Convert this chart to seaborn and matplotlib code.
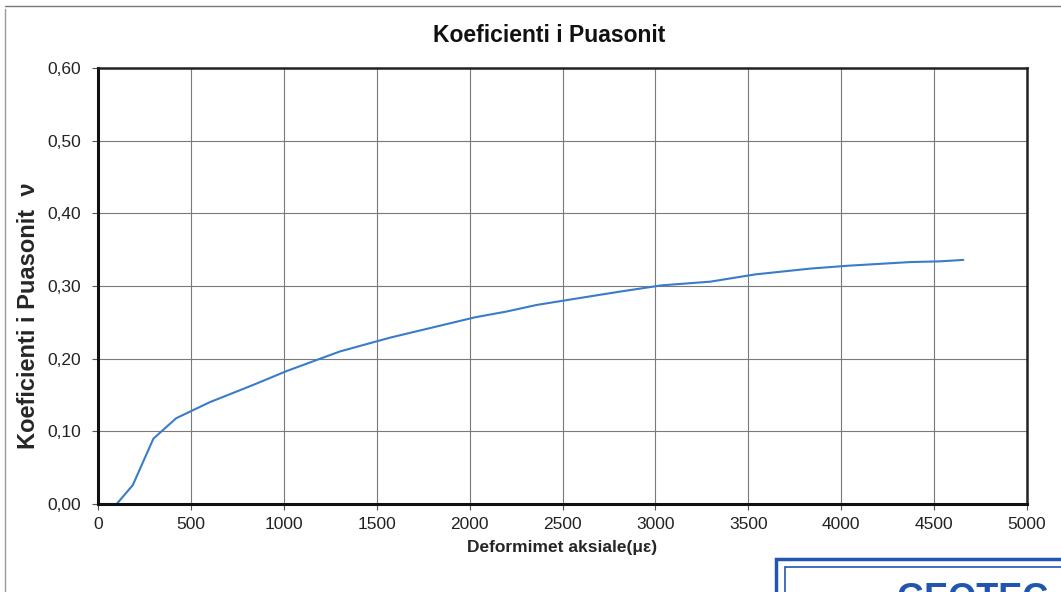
import numpy as np
import pandas as pd
import matplotlib
matplotlib.use("Agg")
import matplotlib.pyplot as plt
import matplotlib.ticker as mticker
from matplotlib.patches import Rectangle
import seaborn as sns

# values
strain = [0, 100, 187, 298, 420, 600, 836, 1015, 1302, 1572, 2029, 2200,
          2361, 2531, 2800, 3034, 3294, 3536, 3832, 4038, 4370, 4532, 4657]
poisson = [0.000, 0.000, 0.026, 0.090, 0.118, 0.140, 0.164, 0.183, 0.210,
           0.229, 0.257, 0.265, 0.274, 0.281, 0.292, 0.301, 0.306, 0.316,
           0.324, 0.328, 0.333, 0.334, 0.336]
x_ticks = [0, 500, 1000, 1500, 2000, 2500, 3000, 3500, 4000, 4500, 5000]
y_ticks = [0.0, 0.1, 0.2, 0.3, 0.4, 0.5, 0.6]

df = pd.DataFrame({"strain": strain, "nu": poisson})

sns.set_style("white")
plt.rcParams["font.family"] = ["Liberation Sans", "DejaVu Sans"]

fig = plt.figure(figsize=(10.61, 5.92), dpi=100)
ax = fig.add_axes([0.0924, 0.1486, 0.8756, 0.7364])

sns.lineplot(data=df, x="strain", y="nu", ax=ax, color="#3a7cc8", linewidth=1.5)

ax.set_xlim(0, 5000)
ax.set_ylim(0, 0.6)
ax.set_xticks(x_ticks)
ax.set_yticks(y_ticks)
ax.yaxis.set_major_formatter(
    mticker.FuncFormatter(lambda v, p: f"{v:.2f}".replace(".", ","))
)
ax.grid(True, color="#7a7a7a", linewidth=0.8)
ax.tick_params(axis="both", labelsize=12.5, length=4, width=0.8,
               color="#555555", direction="out", labelcolor="#222222")
ax.tick_params(axis="x", bottom=True, pad=5)
ax.tick_params(axis="y", left=True, pad=8)
for side in ["left", "bottom"]:
    ax.spines[side].set_linewidth(2.2)
    ax.spines[side].set_color("#111111")
for side in ["top", "right"]:
    ax.spines[side].set_linewidth(1.8)
    ax.spines[side].set_color("#222222")

ax.set_xlabel("Deformimet aksiale(με)", fontsize=12.5, fontweight="bold", labelpad=6)
ax.set_ylabel("Koeficienti i Puasonit  ν", fontsize=17, fontweight="bold")
ax.yaxis.set_label_coords(-0.062, 0.433)
fig.text(0.518, 0.94, "Koeficienti i Puasonit", ha="center", va="center",
         fontsize=16.5, fontweight="bold", color="#111111")

# scan page frame lines
fig.add_artist(plt.Line2D([0.005, 1.0], [0.99, 0.99], color="#777777", linewidth=1))
fig.add_artist(plt.Line2D([0.005, 0.005], [0.0, 0.985], color="#999999", linewidth=1))

# stamp at bottom right
fig.add_artist(Rectangle((0.731, -0.05), 0.3, 0.105, fill=False,
                         edgecolor="#2255b0", linewidth=2.5))
fig.add_artist(Rectangle((0.740, -0.05), 0.3, 0.093, fill=False,
                         edgecolor="#2255b0", linewidth=1.2))
fig.text(0.845, -0.012, "GEOTEC", ha="left", va="center", fontsize=26,
         fontweight="bold", color="#2255b0")

fig.savefig("out.png", dpi=100)
